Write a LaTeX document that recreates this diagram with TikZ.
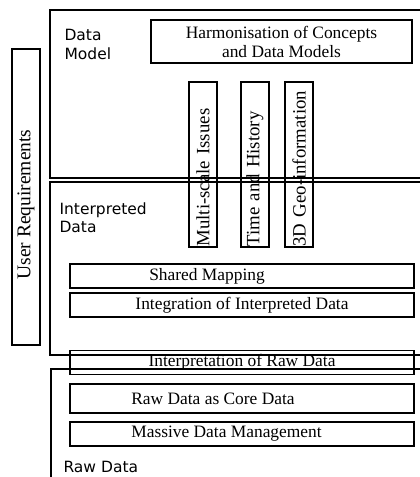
\documentclass[tikz,border=0pt]{standalone}
\usepackage{fontspec}
\setmainfont{Liberation Serif}
\newfontfamily\labelfont{DejaVu Sans}
\begin{document}
\begin{tikzpicture}[x=1pt,y=-1pt,line width=1.1pt,
  every node/.style={font=\fontsize{17.4}{19}\selectfont},
  bar/.style={draw,minimum width=344pt,inner sep=0pt},
  vbar/.style={draw,rotate=90,font=\fontsize{18.8}{20}\selectfont,minimum height=28pt,text width=164pt,inner xsep=0.5pt,inner ysep=0pt,align=left},
  layer/.style={font=\labelfont\fontsize{15.5}{18.5}\selectfont,anchor=north west,inner sep=0pt,align=left}]
  	\clip (0,0) rectangle (420,477);
  	
  	% layers
  	\draw (50,10) rectangle (440,178);
  	\draw (50,182) rectangle (440,355);
  	\draw (51,369) rectangle (440,500);
  	\node[layer] (dmlabel) at (64,29) {Data\\Model};
  	\node[layer] (idlabel) at (59,202) {Interpreted\\Data};
  	\node[layer] (rdlabel) at (63,461) {Raw Data};
  	
  	\node[draw,rotate=90,font=\fontsize{19.5}{21}\selectfont,minimum width=296pt,minimum height=28pt,inner sep=0pt] (user) at (26,197) {User Requirements\hspace*{15pt}};
  	\node[draw,minimum width=261pt,minimum height=43pt,inner sep=0pt,align=center] (harmon) at (281.5,41.5) {Harmonisation of Concepts\\and Data Models};
  	
  	\node[vbar] (multi) at (203,164.5) {Multi-scale Issues};
  	\node[vbar] (time) at (255,164.5) {Time and History};
  	\node[vbar] (geo) at (299,164.5) {3D Geo-information};
  	
  	\node[bar,minimum height=24pt] (shared) at (242,276) {Shared Mapping\hspace*{70pt}};
  	\node[bar,minimum height=24pt] (integ) at (242,305) {Integration of Interpreted Data};
  	\node[bar,minimum height=23.5pt] (interp) at (242,362.5) {Interpretation of Raw Data};
  	\node[bar,minimum height=29pt] (core) at (242,398.5) {Raw Data as Core Data\hspace*{58pt}};
  	\node[bar,minimum height=24pt] (massive) at (242,434) {Massive Data Management\hspace*{31pt}};
	\end{tikzpicture}
\end{document}
